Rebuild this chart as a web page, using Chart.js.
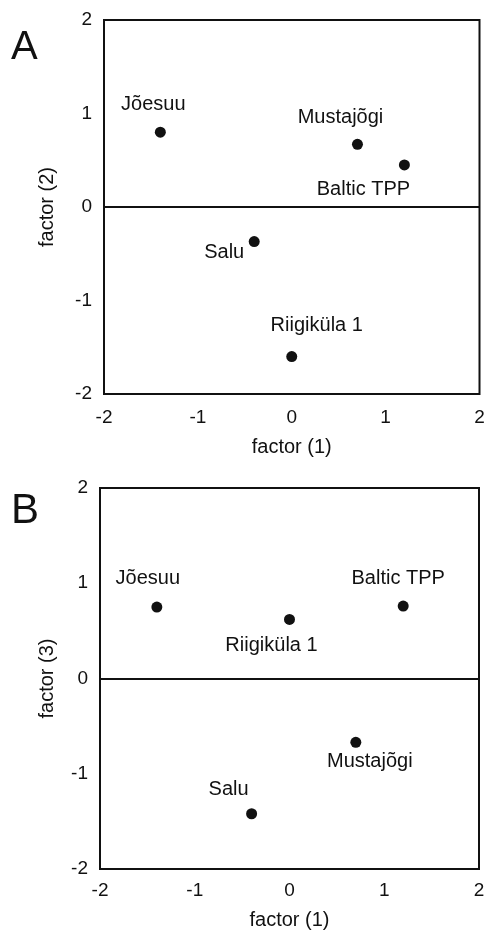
<!DOCTYPE html>
<html><head><meta charset="utf-8">
<script src="https://cdn.jsdelivr.net/npm/chart.js@4/dist/chart.umd.min.js"></script>
<style>
html,body{margin:0;padding:0;background:#fff;}
#wrap{position:relative;width:485px;height:932px;overflow:hidden;}
.panel{position:absolute;left:0;width:485px;height:466px;}
#pa{top:0;}
#pb{top:466px;}
.letter{position:absolute;font-family:"Liberation Sans",Arial,sans-serif;color:#111;}
</style></head>
<body>
<div id="wrap">
  <div class="panel" id="pa"><canvas id="ca"></canvas></div>
  <div class="panel" id="pb"><canvas id="cb"></canvas></div>
  <div class="letter" style="left:11px;top:25px;font-size:40px;line-height:40px;">A</div>
  <div class="letter" style="left:11px;top:488px;font-size:42px;line-height:42px;">B</div>
</div>
<script>
// ---- data ----
const sites = ["Jõesuu", "Mustajõgi", "Baltic TPP", "Salu", "Riigiküla 1"];
const factor1 = [-1.4, 0.7, 1.2, -0.4, 0.0];
const factor2 = [0.8, 0.67, 0.45, -0.37, -1.6];
const factor3 = [0.75, -0.67, 0.76, -1.42, 0.62];
const axisMin = -2, axisMax = 2, axisStep = 1;

// ---- label placement (style, not data) ----
const labelOffsetsA = [[-7, -28], [-17, -27], [-41, 25], [-30, 11], [25, -31]];
const labelOffsetsB = [[-9, -29], [14, 19], [-5, -28], [-23, -24], [-18, 26]];

const FONT = '"Liberation Sans", Arial, Helvetica, sans-serif';
const INK = '#111';

const frameAndLabels = {
  id: 'frameAndLabels',
  afterDatasetsDraw(chart, args, opts) {
    const ctx = chart.ctx;
    const a = chart.chartArea;
    ctx.save();
    ctx.strokeStyle = INK;
    ctx.lineWidth = 2;
    ctx.strokeRect(a.left, a.top, a.right - a.left, a.bottom - a.top);
    ctx.font = '20px ' + FONT;
    ctx.fillStyle = INK;
    ctx.textAlign = 'center';
    ctx.textBaseline = 'middle';
    const meta = chart.getDatasetMeta(0);
    meta.data.forEach((el, i) => {
      const o = opts.offsets[i];
      ctx.fillText(sites[i], el.x + o[0], el.y + o[1]);
    });
    ctx.restore();
  }
};

function makePanel(id, yVals, yTitle, offsets, g) {
  const pts = factor1.map((x, i) => ({x: x, y: yVals[i]}));
  return new Chart(document.getElementById(id), {
    type: 'scatter',
    data: { datasets: [{ data: pts, pointRadius: 5.5, pointHoverRadius: 5.5,
      backgroundColor: INK, borderWidth: 0 }] },
    plugins: [frameAndLabels],
    options: {
      responsive: true, maintainAspectRatio: false, animation: false,
      layout: { padding: { top: g.top, right: g.right, left: 0, bottom: 0 } },
      plugins: { legend: { display: false }, tooltip: { enabled: false },
        frameAndLabels: { offsets: offsets } },
      scales: {
        x: {
          type: 'linear', min: axisMin, max: axisMax,
          ticks: { stepSize: axisStep, color: INK, padding: g.xTickPad, font: { family: FONT, size: 19 } },
          grid: { display: false, drawTicks: false },
          border: { display: false },
          title: { display: true, text: 'factor (1)', color: INK, font: { family: FONT, size: 20 },
            padding: { top: 0, bottom: g.xTitlePad } },
          afterFit(s) { s.height = g.xh; s.paddingLeft = 0; s.paddingRight = 0; }
        },
        y: {
          type: 'linear', min: axisMin, max: axisMax,
          ticks: { stepSize: axisStep, color: INK, padding: 12, font: { family: FONT, size: 19 } },
          grid: { drawTicks: false, lineWidth: 2,
            color: c => (c.tick && c.tick.value === 0) ? INK : 'rgba(0,0,0,0)' },
          border: { display: false },
          title: { display: true, text: yTitle, color: INK, font: { family: FONT, size: 20 },
            padding: { top: 35, bottom: 0 } },
          afterFit(s) { s.width = g.left; s.paddingTop = 0; s.paddingBottom = 0; }
        }
      }
    }
  });
}

makePanel('ca', factor2, 'factor (2)', labelOffsetsA,
  { top: 20, right: 5, left: 104, xh: 72, xTickPad: 12, xTitlePad: 7 });
makePanel('cb', factor3, 'factor (3)', labelOffsetsB,
  { top: 22, right: 6, left: 100, xh: 63, xTickPad: 10, xTitlePad: 0 });
</script>
</body></html>
